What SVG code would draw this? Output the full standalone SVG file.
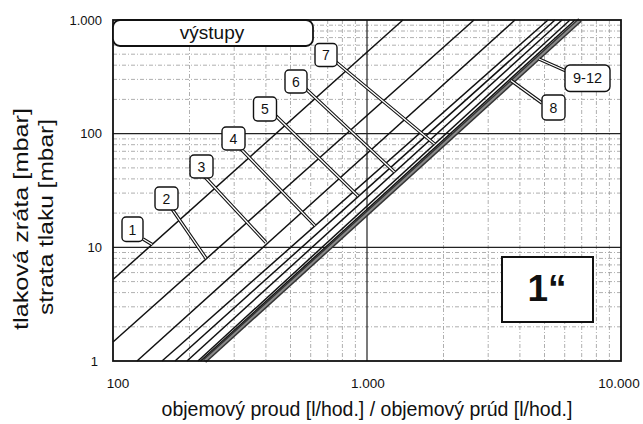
<svg xmlns="http://www.w3.org/2000/svg" width="643" height="424" viewBox="0 0 643 424">
<defs>
<style>
.minor{fill:none;stroke:#9a9a9a;stroke-width:0.8;stroke-dasharray:4 2 1 2}
.major{fill:none;stroke:#222;stroke-width:1.2}
.frame{fill:none;stroke:#111;stroke-width:1.8}
.curve{fill:none;stroke:#111;stroke-width:1.5}
.band{fill:none;stroke:#333;stroke-width:5}
.bandin{fill:none;stroke:#8a8a8a;stroke-width:2}
.ldo{fill:none;stroke:#111;stroke-width:3.4}
.ldi{fill:none;stroke:#fff;stroke-width:1.3}
.lbl{fill:#fff;stroke:#111;stroke-width:1.4}
.t{font-family:"Liberation Sans",Arial,sans-serif;fill:#111}
</style>
</defs>
<rect width="643" height="424" fill="#fff"/>
<g id="grid">
<path class="minor" d="M189.5,20V361M234.2,20V361M265.9,20V361M290.5,20V361M310.7,20V361M327.7,20V361M342.4,20V361M355.4,20V361M443.5,20V361M488.2,20V361M519.9,20V361M544.5,20V361M564.7,20V361M581.7,20V361M596.4,20V361M609.4,20V361"/>
<path class="minor" d="M113,326.8H621M113,306.8H621M113,292.6H621M113,281.6H621M113,272.6H621M113,264.9H621M113,258.4H621M113,252.5H621M113,213.1H621M113,193.1H621M113,178.9H621M113,167.9H621M113,158.9H621M113,151.3H621M113,144.7H621M113,138.9H621M113,99.4H621M113,79.4H621M113,65.2H621M113,54.2H621M113,45.2H621M113,37.6H621M113,31H621M113,25.2H621"/>
<path class="major" d="M367,20V361M113,133.7H621M113,247.3H621"/>
</g>
<g id="connectors">
<path class="curve" d="M113,279.5L402.9,20"/>
<path class="curve" d="M113,342L474,20"/>
<path class="curve" d="M137,361L515,20"/>
<path class="curve" d="M162,361L548,20"/>
<path class="curve" d="M175,361L555,20"/>
<path class="curve" d="M187,361L562,20"/>
<path class="curve" d="M198,361L570,20"/>
<path class="curve" d="M200.5,361L575,20"/>
<path class="band" d="M204.5,361L580,20"/>
<path class="bandin" d="M204.5,361L580,20"/>
<g id="leaders">
<path class="ldo" d="M143,239L152.1,244.5M172,209L206,258.3M205,177L266,242.5M241,149L315,225.6M276,116L358,196M306,89L394.5,172M336,62L434.5,144M542,103L511,80.5M566,71L539,59"/>
<path class="ldi" d="M143,239L152.1,244.5M172,209L206,258.3M205,177L266,242.5M241,149L315,225.6M276,116L358,196M306,89L394.5,172M336,62L434.5,144M542,103L511,80.5M566,71L539,59"/>
</g>
</g>
<rect class="frame" x="113" y="20" width="508" height="341"/>
<g id="n-vystupy">
<rect x="113" y="20" width="200" height="26" rx="7" fill="#fff" stroke="#111" stroke-width="1.8"/>
<text class="t" x="212" y="39" font-size="19" text-anchor="middle">výstupy</text>
</g>
<g id="n1"><rect class="lbl" x="122" y="217" width="21" height="24.5" rx="4"/><text class="t" x="132.5" y="234.5" font-size="14" text-anchor="middle">1</text></g>
<g id="n2"><rect class="lbl" x="155" y="187" width="23" height="23" rx="4"/><text class="t" x="166.5" y="203.5" font-size="14" text-anchor="middle">2</text></g>
<g id="n3"><rect class="lbl" x="190" y="155" width="23" height="23" rx="4"/><text class="t" x="201.5" y="171.5" font-size="14" text-anchor="middle">3</text></g>
<g id="n4"><rect class="lbl" x="222" y="127" width="23" height="23" rx="4"/><text class="t" x="233.5" y="143.5" font-size="14" text-anchor="middle">4</text></g>
<g id="n5"><rect class="lbl" x="253.5" y="97" width="23" height="24" rx="4"/><text class="t" x="265" y="114" font-size="14" text-anchor="middle">5</text></g>
<g id="n6"><rect class="lbl" x="285" y="70" width="22" height="23" rx="4"/><text class="t" x="296" y="86.5" font-size="14" text-anchor="middle">6</text></g>
<g id="n7"><rect class="lbl" x="315" y="43.5" width="22" height="23" rx="4"/><text class="t" x="326" y="59.5" font-size="14" text-anchor="middle">7</text></g>
<g id="n8"><rect class="lbl" x="542" y="95" width="23" height="25" rx="4"/><text class="t" x="553.5" y="112.5" font-size="14" text-anchor="middle">8</text></g>
<g id="n9-12"><rect class="lbl" x="565" y="65" width="45" height="26.5" rx="5"/><text class="t" x="587.5" y="83" font-size="14.5" text-anchor="middle">9-12</text></g>
<g id="n-size">
<rect x="502" y="257" width="91" height="65" fill="#fff" stroke="#111" stroke-width="2"/>
<text class="t" x="547" y="300.5" font-size="37" font-weight="bold" text-anchor="middle">1“</text>
</g>
<g id="axes">
<text class="t" font-size="13" text-anchor="end" x="102" y="24.5">1.000</text>
<text class="t" font-size="13" text-anchor="end" x="102" y="138">100</text>
<text class="t" font-size="13" text-anchor="end" x="102" y="251.5">10</text>
<text class="t" font-size="13" text-anchor="end" x="98" y="365.5">1</text>
<text class="t" font-size="13.5" text-anchor="middle" x="118" y="388">100</text>
<text class="t" font-size="13.5" text-anchor="middle" x="368" y="388">1.000</text>
<text class="t" font-size="13.5" text-anchor="middle" x="619" y="388">10.000</text>
<text class="t" font-size="19.5" text-anchor="middle" x="367" y="416">objemový proud [l/hod.] / objemový prúd [l/hod.]</text>
<text class="t" font-size="20" text-anchor="middle" textLength="222" lengthAdjust="spacingAndGlyphs" transform="translate(28,219) rotate(-90)">tlaková zráta [mbar]</text>
<text class="t" font-size="20" text-anchor="middle" textLength="196" lengthAdjust="spacingAndGlyphs" transform="translate(53,217) rotate(-90)">strata tlaku [mbar]</text>
</g>
</svg>
